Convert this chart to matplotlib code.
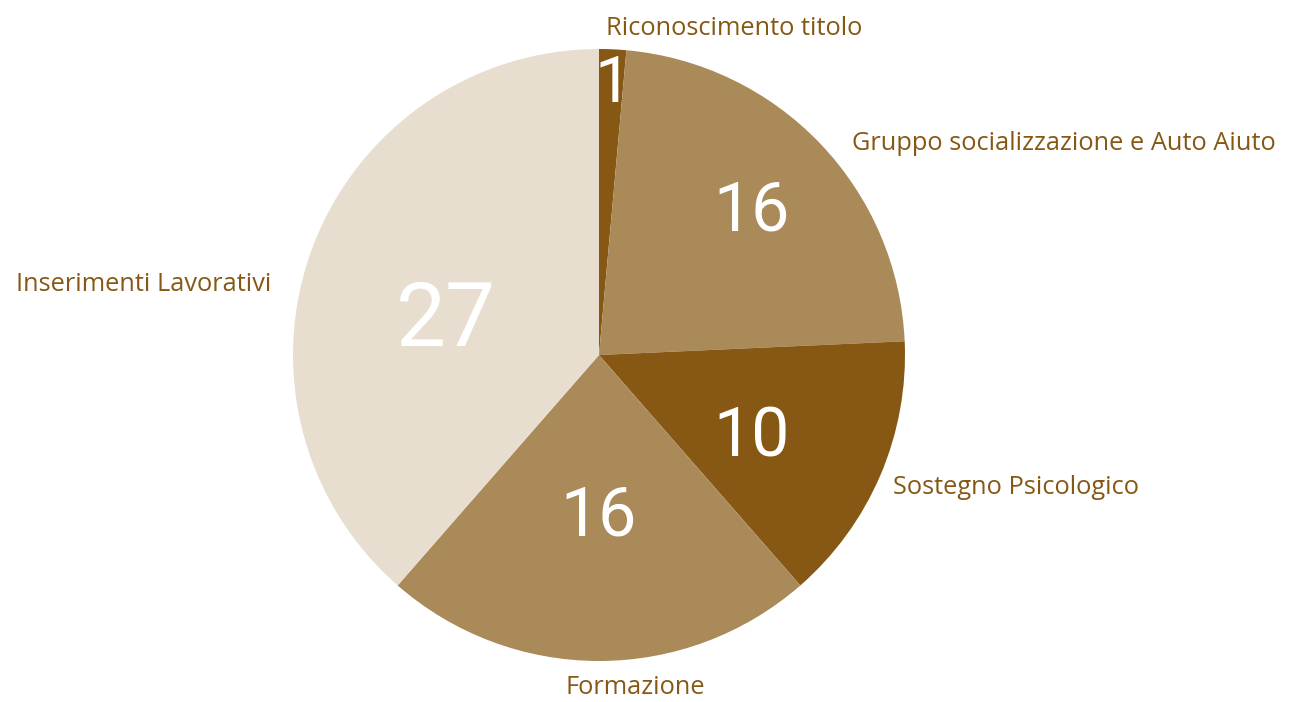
import matplotlib
matplotlib.use("Agg")
import matplotlib.pyplot as plt

categories = ["Riconoscimento titolo", "Gruppo socializzazione e Auto Aiuto",
              "Sostegno Psicologico", "Formazione", "Inserimenti Lavorativi"]
values = [1, 16, 10, 16, 27]
colors = ["#865814", "#AB8A5A", "#865814", "#AB8A5A", "#E7DED0"]

# layout (axes coordinates of pie, radius = 1)
label_pos = [(0.023, 1.068, "left"), (0.827, 0.69, "left"), (0.961, -0.432, "left"),
             (0.118, -1.085, "center"), (-1.072, 0.232, "right")]
value_pos = [(0.045, 0.885), (0.497, 0.47), (0.497, -0.27), (0.0, -0.528), (-0.5, 0.11)]
value_size = [47, 49, 49, 49, 64]

plt.rcParams['font.family'] = ['Open Sans', 'DejaVu Sans']
W, H = 1291, 702
fig = plt.figure(figsize=(W / 100, H / 100), dpi=100)
cx, cy, r = 599, 355, 306
ax = fig.add_axes([(cx - r) / W, (H - cy - r) / H, 2 * r / W, 2 * r / H])
ax.pie(values, colors=colors, startangle=90, counterclock=False, radius=1,
       wedgeprops=dict(linewidth=0))
ax.set_xlim(-1, 1)
ax.set_ylim(-1, 1)
ax.set_aspect('auto')
ax.axis('off')

for cat, (x, y, ha) in zip(categories, label_pos):
    ax.text(x, y, cat, ha=ha, va='center', fontsize=18.3, color="#865814", clip_on=False)
for v, (x, y), s in zip(values, value_pos, value_size):
    ax.text(x, y, str(v), ha='center', va='center', fontsize=s, color='white',
            family=['Roboto', 'DejaVu Sans'])

fig.savefig("out.png", dpi=100)
